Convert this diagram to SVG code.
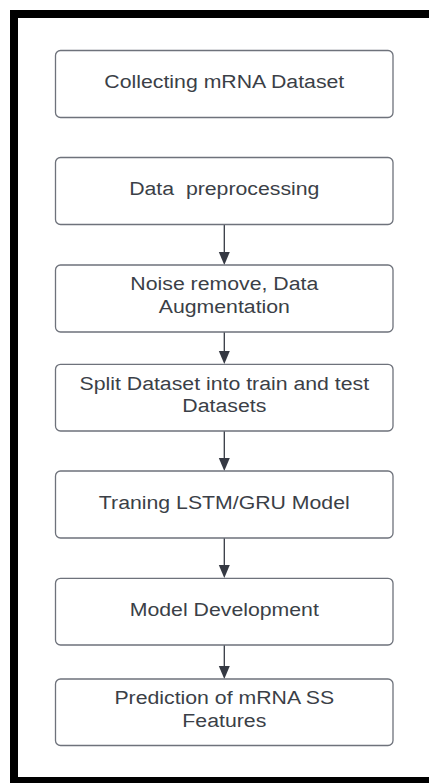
<svg xmlns="http://www.w3.org/2000/svg" width="429" height="783" viewBox="0 0 429 783">
  <style>
    .box { fill: #ffffff; stroke: #6e727b; stroke-width: 1.3; }
    .lbl { font-family: "Liberation Sans", Arial, sans-serif; font-size: 19px; fill: #3b3f47; text-anchor: middle; }
    .edge { stroke: #353943; stroke-width: 1.3; fill: none; marker-end: url(#arrow); }
  </style>
  <defs>
    <marker id="arrow" markerWidth="11" markerHeight="13" refX="5.5" refY="13" orient="auto-start-reverse" markerUnits="userSpaceOnUse" viewBox="0 0 11 13">
      <path d="M0,0 L11,0 L5.5,13 Z" fill="#353943" transform="rotate(-90 5.5 6.5) translate(0 0)"/>
    </marker>
  </defs>
  <rect x="0" y="0" width="429" height="783" fill="#ffffff"/>
  <rect id="frame" x="14" y="14" width="440" height="767" fill="none" stroke="#000000" stroke-width="8"/>

  <g id="connectors">
    <line x1="224.3" y1="225" x2="224.3" y2="252" stroke="#353943" stroke-width="1.3"/>
    <path d="M218.8,252 L229.8,252 L224.3,265 Z" fill="#353943"/>
    <line x1="224.3" y1="332" x2="224.3" y2="351" stroke="#353943" stroke-width="1.3"/>
    <path d="M218.8,351 L229.8,351 L224.3,364 Z" fill="#353943"/>
    <line x1="224.3" y1="431" x2="224.3" y2="458" stroke="#353943" stroke-width="1.3"/>
    <path d="M218.8,458 L229.8,458 L224.3,471 Z" fill="#353943"/>
    <line x1="224.3" y1="538" x2="224.3" y2="565" stroke="#353943" stroke-width="1.3"/>
    <path d="M218.8,565 L229.8,565 L224.3,578 Z" fill="#353943"/>
    <line x1="224.3" y1="645" x2="224.3" y2="666" stroke="#353943" stroke-width="1.3"/>
    <path d="M218.8,666 L229.8,666 L224.3,679 Z" fill="#353943"/>
  </g>

  <g id="n1">
    <rect class="box" x="55.5" y="50.5" width="337.5" height="67" rx="5"/>
    <g transform="translate(224.3 0) scale(1.12 1)"><text class="lbl" x="0" y="88">Collecting mRNA Dataset</text></g>
  </g>
  <g id="n2">
    <rect class="box" x="55.5" y="157.5" width="337.5" height="67" rx="5"/>
    <g transform="translate(224.3 0) scale(1.12 1)"><text class="lbl" x="0" y="195" xml:space="preserve">Data  preprocessing</text></g>
  </g>
  <g id="n3">
    <rect class="box" x="55.5" y="265" width="337.5" height="67" rx="5"/>
    <g transform="translate(224.3 0) scale(1.12 1)">
      <text class="lbl" x="0" y="290.5">Noise remove, Data</text>
      <text class="lbl" x="0" y="313.3">Augmentation</text>
    </g>
  </g>
  <g id="n4">
    <rect class="box" x="55.5" y="364.3" width="337.5" height="66.7" rx="5"/>
    <g transform="translate(224.3 0) scale(1.12 1)">
      <text class="lbl" x="0" y="389.8">Split Dataset into train and test</text>
      <text class="lbl" x="0" y="412.4">Datasets</text>
    </g>
  </g>
  <g id="n5">
    <rect class="box" x="55.5" y="471" width="337.5" height="67" rx="5"/>
    <g transform="translate(224.3 0) scale(1.12 1)"><text class="lbl" x="0" y="509">Traning LSTM/GRU Model</text></g>
  </g>
  <g id="n6">
    <rect class="box" x="55.5" y="578.3" width="337.5" height="66.7" rx="5"/>
    <g transform="translate(224.3 0) scale(1.12 1)"><text class="lbl" x="0" y="616">Model Development</text></g>
  </g>
  <g id="n7">
    <rect class="box" x="55.5" y="679" width="337.5" height="66.5" rx="5"/>
    <g transform="translate(224.3 0) scale(1.12 1)">
      <text class="lbl" x="0" y="704.5">Prediction of mRNA SS</text>
      <text class="lbl" x="0" y="727.3">Features</text>
    </g>
  </g>
</svg>
